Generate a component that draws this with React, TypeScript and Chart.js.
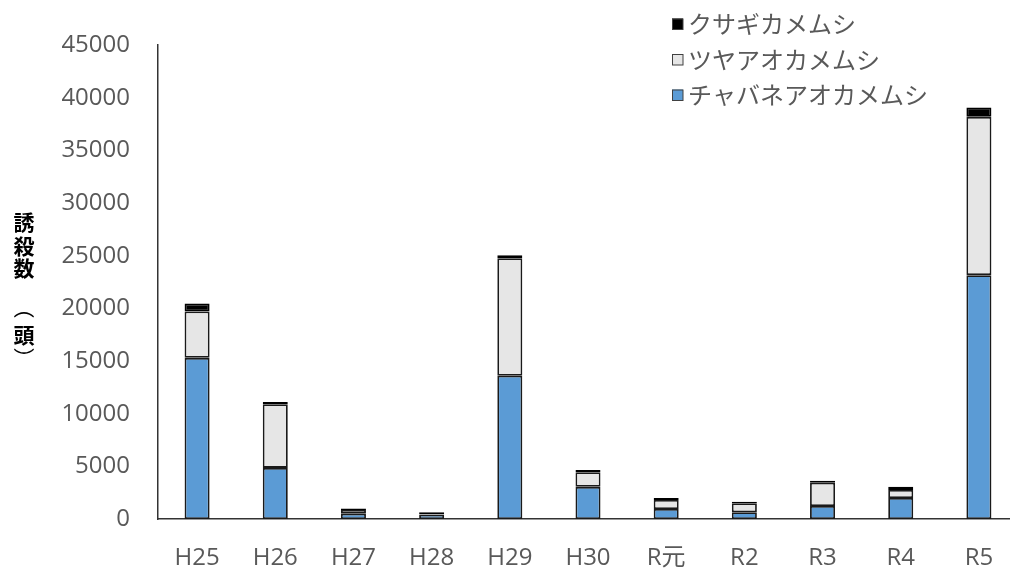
import { useEffect, useRef } from "react";
import { Chart, registerables } from "chart.js";

Chart.register(...registerables);

const categories = ["H25", "H26", "H27", "H28", "H29", "H30", "R元", "R2", "R3", "R4", "R5"];
const seriesNames = ["チャバネアオカメムシ", "ツヤアオカメムシ", "クサギカメムシ"];
const chabane = [15300, 4850, 500, 400, 13600, 3050, 950, 640, 1230, 1990, 23150];
const tsuya = [4400, 6050, 350, 50, 11150, 1400, 850, 850, 2210, 760, 15030];
const kusagi = [750, 200, 150, 180, 300, 200, 200, 150, 190, 310, 890];
const seriesColors = ["#5B9BD5", "#E6E6E6", "#000000"];
const yMax = 45000;
const yStep = 5000;
const yTitleChars = ["誘", "殺", "数", "（", "頭", "）"];
const yTitleOffsets = [-59.5, -35.5, -14, 26, 53, 76];

const TEXT = "#595959";
const LATIN = "'Open Sans', 'Noto Sans CJK JP', sans-serif";
const CJK = "'Noto Sans CJK JP', sans-serif";

const legendPlugin = {
  id: "floatLegend",
  afterDraw(chart: any) {
    const ctx = chart.ctx;
    const ds = chart.data.datasets;
    ctx.save();
    ctx.font = `24px ${CJK}`;
    ctx.textBaseline = "middle";
    ctx.textAlign = "left";
    const order = ds.map((_: any, i: number) => i).reverse();
    order.forEach((idx: number, row: number) => {
      const y = 24 + row * 35.5;
      ctx.fillStyle = ds[idx].backgroundColor;
      ctx.fillRect(672, y - 5.5, 11, 11);
      ctx.strokeStyle = "#404040";
      ctx.lineWidth = 1;
      ctx.strokeRect(672.5, y - 5, 10.5, 10.5);
      ctx.fillStyle = TEXT;
      ctx.fillText(ds[idx].label, 688, y);
    });
    ctx.restore();
  },
};

const yTitlePlugin = {
  id: "yTitleVertical",
  afterDraw(chart: any) {
    const ctx = chart.ctx;
    const area = chart.chartArea;
    const cy = (area.top + area.bottom) / 2;
    ctx.save();
    ctx.fillStyle = "#000";
    ctx.font = `bold 21px ${CJK}`;
    ctx.textAlign = "center";
    ctx.textBaseline = "middle";
    yTitleChars.forEach((ch, i) => {
      const y = cy + yTitleOffsets[i];
      if (ch === "（" || ch === "）") {
        ctx.save();
        ctx.translate(24, y);
        ctx.rotate(Math.PI / 2);
        ctx.font = `21px ${CJK}`;
        ctx.fillText(ch, 0, 0);
        ctx.restore();
      } else {
        ctx.fillText(ch, 24, y);
      }
    });
    ctx.restore();
  },
};

export default function App() {
  const ref = useRef<HTMLCanvasElement | null>(null);
  useEffect(() => {
    if (!ref.current) return;
    const values = [chabane, tsuya, kusagi];
    const chart = new Chart(ref.current, {
      type: "bar",
      data: {
        labels: categories,
        datasets: values.map((v, i) => ({
          label: seriesNames[i],
          data: v,
          backgroundColor: seriesColors[i],
          borderColor: i === 2 ? "#000000" : "#1a1a1a",
          borderWidth: 1.8,
          borderSkipped: false,
          barPercentage: 0.32,
          categoryPercentage: 1,
        })),
      },
      options: {
        responsive: false,
        animation: false,
        layout: { padding: { top: 45, right: 3, left: 0, bottom: 0 } },
        plugins: {
          legend: { display: false },
          tooltip: { enabled: false },
        },
        scales: {
          x: {
            stacked: true,
            grid: { display: false, drawTicks: false },
            border: { display: true, color: "#333333", width: 1.5 },
            ticks: {
              color: TEXT,
              font: { family: LATIN, size: 24 },
              padding: 25,
              maxRotation: 0,
              autoSkip: false,
            },
            afterFit(scale: any) {
              scale.height = 55;
            },
          },
          y: {
            stacked: true,
            min: 0,
            max: yMax,
            grid: { display: false, drawTicks: false },
            border: { display: true, color: "#333333", width: 1.5 },
            ticks: {
              stepSize: yStep,
              color: TEXT,
              font: { family: LATIN, size: 24 },
              padding: 28,
              callback: (v: any) => String(v),
            },
            afterFit(scale: any) {
              scale.width = 158;
            },
          },
        },
      },
      plugins: [legendPlugin, yTitlePlugin],
    });
    return () => chart.destroy();
  }, []);
  return (
    <div
      style={{
        position: "fixed",
        left: 0,
        top: 0,
        width: 1010,
        height: 574,
        overflow: "hidden",
        background: "#fff",
      }}
    >
      <canvas ref={ref} width={1021} height={574} style={{ display: "block" }} />
    </div>
  );
}
